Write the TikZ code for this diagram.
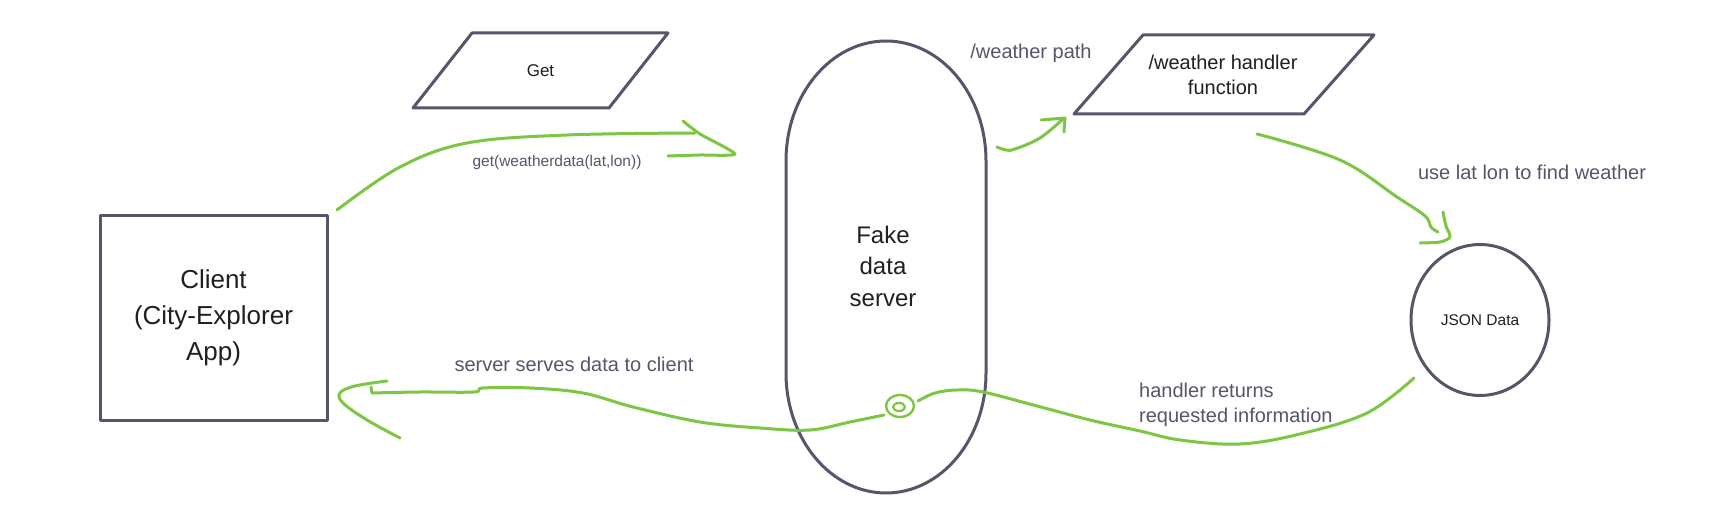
\documentclass[tikz,border=0pt]{standalone}
\usepackage{fontspec}
\setmainfont{Liberation Sans}
\usetikzlibrary{shapes.geometric}
\definecolor{edgecol}{HTML}{56556B}
\definecolor{grn}{HTML}{7DC643}
\definecolor{lblcol}{HTML}{56556B}
\definecolor{ink}{HTML}{1F1F24}
\begin{document}
\begin{tikzpicture}[x=1pt,y=-1pt,
  outl/.style={draw=edgecol, line width=3pt, line join=round},
  flow/.style={draw=grn, line width=3pt, line cap=round, line join=round},
  lbl/.style={text=lblcol, font=\fontsize{20}{25}\selectfont, inner sep=0pt},
  smalltxt/.style={text=ink, font=\fontsize{15.5}{18}\selectfont, inner sep=0pt}]
\fill[white] (0,0) rectangle (1725,532);
\useasboundingbox (0,0) rectangle (1725,532);

% Client
\node[outl, rectangle, minimum width=227pt, minimum height=205pt, inner sep=0pt,
      text=ink, font=\fontsize{26}{36}\selectfont, align=center] (client) at (213.5,317.5)
      {Client\\(City-Explorer\\App)};

% Get parallelogram
\draw[outl] (472,33) -- (668,33) -- (609,108) -- (413,108) -- cycle;
\node[text=ink, font=\fontsize{17}{20}\selectfont, inner sep=0pt] (get) at (540.5,70.5) {Get};

% Server stadium
\draw[outl] (786,161) -- (786,373)
  arc[start angle=180, end angle=360, x radius=100pt, y radius=120pt]
  -- (986,161)
  arc[start angle=0, end angle=180, x radius=100pt, y radius=120pt] -- cycle;
\node[text=ink, font=\fontsize{24}{31.5}\selectfont, align=center, inner sep=0pt] (server) at (883,266) {Fake\\data\\server};

% Handler parallelogram
\draw[outl] (1143,35) -- (1374,35) -- (1304,114) -- (1074,114) -- cycle;
\node[text=ink, font=\fontsize{20}{25}\selectfont, align=center, inner sep=0pt] (handler) at (1223,74.5) {/weather handler\\function};

% JSON
\node[outl, ellipse, minimum width=138pt, minimum height=151pt, inner sep=0pt, smalltxt] (json) at (1480,320) {JSON Data};

% Labels
\node[smalltxt, text=lblcol] (lget) at (557,162) {get(weatherdata(lat,lon))};
\node[lbl] (lpath) at (1031,53) {/weather path};
\node[lbl] (luse) at (1532,172) {use lat lon to find weather};
\node[lbl] (lserve) at (574,364) {server serves data to client};
\node[lbl, align=left, anchor=west] (lret) at (1139,404.5) {handler returns\\requested information};

% Connector coordinates
\coordinate (a1s) at (337,210);
\coordinate (a1e) at (695,133);
\coordinate (a2s) at (997,147);
\coordinate (a2e) at (1063,119);
\coordinate (a3s) at (1257,134);
\coordinate (a3e) at (1438,232);
\coordinate (a4s) at (1414,378);
\coordinate (a4e) at (372,393);

% client -> server (get request)
\draw[flow] plot[smooth, tension=0.6] coordinates {(a1s) (400,167) (467,143) (567,135) (a1e)};
\draw[flow] plot[smooth, tension=0.4] coordinates {(683,121) (700,134) (735,154) (700,155) (668,156)};

% server -> handler
\draw[flow] plot[smooth, tension=0.6] coordinates {(a2s) (1006,150) (1015,149) (1040,138) (a2e)};
\draw[flow] (1041,120) -- (1065,118) -- (1064,132);

% handler -> json
\draw[flow] plot[smooth, tension=0.6] coordinates {(a3s) (1340,160) (1397,197) (1425,216) (1431,227) (a3e)};
\draw[flow] plot[smooth, tension=0.5] coordinates {(1443,212) (1446,226) (1450,237) (1440,242) (1420,243)};

% json -> server -> client (return)
\draw[flow] plot[smooth, tension=0.6] coordinates {(a4s) (1367,413) (1300,434) (1240,444) (1180,440) (1140,431) (1090,420) (1037,406) (983,392) (957,390) (935,393) (918,401)};
\draw[flow, line width=2.4pt] (900,406) ellipse[x radius=14pt, y radius=11pt];
\draw[flow, line width=2.2pt] (899,407) ellipse[x radius=6pt, y radius=4pt];
\draw[flow] plot[smooth, tension=0.6] coordinates {(884,415) (850,422) (810,430) (760,428) (700,422) (633,407) (583,393) (530,388) (483,388) (474,392) (420,392) (a4e)};
\draw[flow] (a4e) -- (371,387);
\draw[flow] plot[smooth, tension=0.6] coordinates {(387,381) (355,386) (340,393) (343,403) (367,420) (400,438)};
\end{tikzpicture}
\end{document}
